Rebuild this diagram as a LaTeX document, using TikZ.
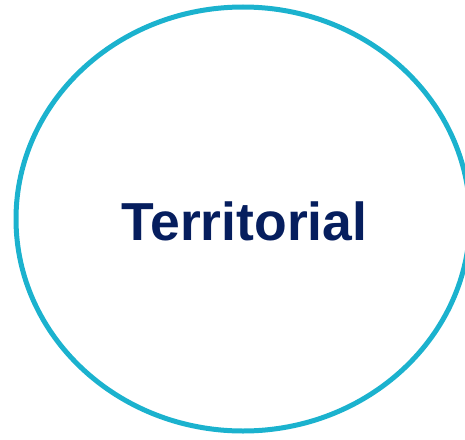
\documentclass[tikz,border=0pt]{standalone}
\usepackage{fontspec}
\setmainfont{Liberation Sans}
\usepackage{tikz}
\usetikzlibrary{shapes}
\definecolor{ringcyan}{RGB}{27,178,206}
\definecolor{labelnavy}{RGB}{6,30,94}

\begin{document}
\begin{tikzpicture}[x=1pt,y=-1pt,
                    ring/.style={draw=ringcyan,line width=5pt},
                    label text/.style={font=\fontsize{53.5}{60}\selectfont\bfseries,text=labelnavy}]
  \clip (0,0) rectangle (465,439);
  \useasboundingbox (0,0) rectangle (465,439);

  \draw[ring] (243,219) ellipse [x radius=227,y radius=212];
  \node[label text] (territorial) at (244.5,221.5) {Territorial};
\end{tikzpicture}
\end{document}
